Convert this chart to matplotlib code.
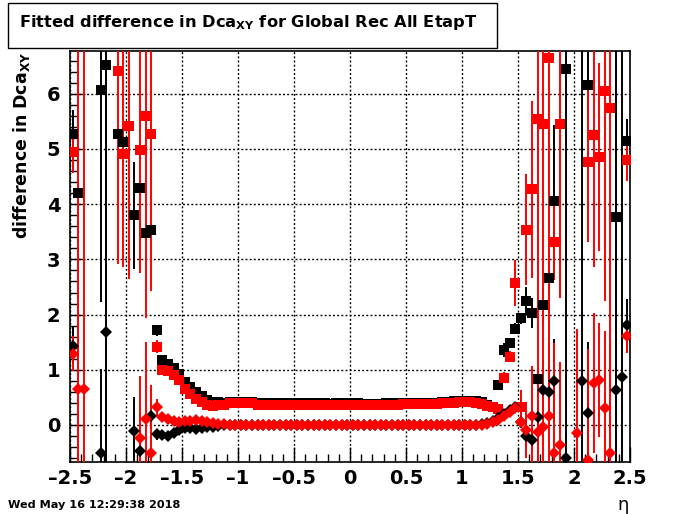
import numpy as np
import matplotlib
matplotlib.use("Agg")
import matplotlib.pyplot as plt
from matplotlib.patches import Rectangle
from matplotlib.ticker import MultipleLocator, FuncFormatter

nan = np.nan

# eta bins: 100 bins from -2.5 to 2.5
eta_lo, eta_hi, n_bins = -2.5, 2.5, 100

# black squares
blk_sq = [5.28, 4.20, nan, nan, nan, 6.06, 6.52, nan, 5.28, 5.12,
          nan, 3.80, 4.29, 3.47, 3.54, 1.72, 1.18, 1.10, 1.03, 0.92,
          0.77, 0.68, 0.60, 0.53, 0.46, 0.42, 0.41, 0.40, 0.41, 0.42,
          0.42, 0.41, 0.41, 0.40, 0.40, 0.39, 0.39, 0.39, 0.39, 0.39,
          0.39, 0.39, 0.39, 0.39, 0.39, 0.39, 0.38, 0.39, 0.39, 0.39,
          0.39, 0.39, 0.38, 0.38, 0.38, 0.38, 0.39, 0.39, 0.39, 0.40,
          0.40, 0.40, 0.40, 0.40, 0.40, 0.40, 0.41, 0.41, 0.43, 0.44,
          0.44, 0.44, 0.43, 0.41, 0.37, 0.33, 0.72, 1.36, 1.49, 1.74,
          1.93, 2.25, 2.03, 0.83, 2.17, 2.67, 4.06, nan, 6.44, nan,
          nan, nan, 6.15, nan, nan, nan, nan, 3.76, nan, 5.14]
blk_sq_err = [0.43, 0.05, 0, 0, 0, 3.83, 9.0, 0, 0.10, 0.10,
              0, 0.97, 0.10, 0.10, 0.10, 0.10, 0.04, 0.03, 0.03, 0.03,
              0.02, 0.02, 0.02, 0.02, 0.02, 0.02, 0.02, 0.02, 0.02, 0.02,
              0.02, 0.02, 0.02, 0.02, 0.02, 0.02, 0.02, 0.02, 0.02, 0.02,
              0.02, 0.02, 0.02, 0.02, 0.02, 0.02, 0.02, 0.02, 0.02, 0.02,
              0.02, 0.02, 0.02, 0.02, 0.02, 0.02, 0.02, 0.02, 0.02, 0.02,
              0.02, 0.02, 0.02, 0.02, 0.02, 0.02, 0.02, 0.02, 0.02, 0.02,
              0.02, 0.02, 0.02, 0.02, 0.03, 0.03, 0.06, 0.12, 0.08, 0.10,
              0.10, 0.25, 0.27, 0.20, 0.30, 0.30, 1.37, 0, 9.0, 0,
              0, 0, 0.60, 0, 0, 0, 0, 9.0, 0, 0.41]

# red squares
red_sq = [4.94, nan, nan, nan, nan, nan, nan, nan, 6.41, 4.90,
          5.41, nan, 4.98, 5.59, 5.28, 1.42, 1.00, 0.97, 0.91, 0.81,
          0.66, 0.56, 0.47, 0.42, 0.37, 0.35, 0.36, 0.37, 0.39, 0.40,
          0.40, 0.39, 0.39, 0.37, 0.37, 0.37, 0.37, 0.37, 0.37, 0.37,
          0.37, 0.37, 0.37, 0.37, 0.37, 0.37, 0.37, 0.37, 0.37, 0.37,
          0.37, 0.37, 0.37, 0.37, 0.37, 0.37, 0.37, 0.37, 0.37, 0.38,
          0.38, 0.38, 0.38, 0.38, 0.38, 0.38, 0.39, 0.39, 0.40, 0.41,
          0.41, 0.41, 0.40, 0.38, 0.35, 0.32, 0.29, 0.86, 1.24, 2.57,
          0.33, 3.54, 4.27, 5.54, 5.45, 6.64, 3.31, 5.45, nan, nan,
          nan, nan, 4.76, 5.25, 4.86, 6.05, 5.75, nan, nan, 4.80]
red_sq_err = [0.38, 0, 0, 0, 0, 0, 0, 0, 3.50, 2.03,
              2.77, 0, 2.23, 3.66, 2.86, 0.12, 0.04, 0.03, 0.03, 0.03,
              0.02, 0.02, 0.02, 0.02, 0.02, 0.02, 0.02, 0.02, 0.02, 0.02,
              0.02, 0.02, 0.02, 0.02, 0.02, 0.02, 0.02, 0.02, 0.02, 0.02,
              0.02, 0.02, 0.02, 0.02, 0.02, 0.02, 0.02, 0.02, 0.02, 0.02,
              0.02, 0.02, 0.02, 0.02, 0.02, 0.02, 0.02, 0.02, 0.02, 0.02,
              0.02, 0.02, 0.02, 0.02, 0.02, 0.02, 0.02, 0.02, 0.02, 0.02,
              0.02, 0.02, 0.02, 0.02, 0.03, 0.03, 0.04, 0.10, 0.10, 0.41,
              0.30, 1.00, 1.60, 5.00, 5.00, 6.00, 0.68, 3.15, 0, 0,
              0, 0, 1.44, 2.38, 1.70, 3.80, 9.0, 0, 0, 0.38]

# black diamonds
blk_di = [1.44, nan, nan, nan, nan, -0.51, 1.68, nan, nan, nan,
          nan, -0.11, -0.48, nan, 0.16, -0.17, -0.18, -0.20, -0.15, -0.09,
          -0.06, -0.06, -0.07, -0.06, -0.04, -0.03, -0.01, 0.00, 0.00, 0.00,
          0.00, 0.00, 0.00, 0.00, 0.00, 0.00, 0.00, 0.00, 0.00, 0.00,
          0.00, 0.00, 0.00, 0.00, 0.00, 0.00, 0.00, 0.00, 0.00, 0.00,
          0.00, 0.00, 0.00, 0.00, 0.00, 0.00, 0.00, 0.00, 0.00, 0.00,
          0.00, 0.00, 0.00, 0.00, 0.00, 0.00, 0.00, 0.00, 0.00, 0.00,
          0.00, 0.00, 0.00, 0.01, 0.03, 0.07, 0.12, 0.20, 0.27, 0.33,
          0.05, -0.20, -0.27, 0.15, 0.63, 0.60, 0.80, nan, -0.59, nan,
          nan, 0.80, 0.22, nan, nan, nan, nan, 0.63, 0.87, 1.81]
blk_di_err = [0.33, 0, 0, 0, 0, 1.52, 9.0, 0, 0, 0,
              0, 0.62, 0.10, 0, 0.10, 0.10, 0.04, 0.03, 0.03, 0.03,
              0.02, 0.02, 0.02, 0.02, 0.02, 0.02, 0.02, 0.02, 0.02, 0.02,
              0.02, 0.02, 0.02, 0.02, 0.02, 0.02, 0.02, 0.02, 0.02, 0.02,
              0.02, 0.02, 0.02, 0.02, 0.02, 0.02, 0.02, 0.02, 0.02, 0.02,
              0.02, 0.02, 0.02, 0.02, 0.02, 0.02, 0.02, 0.02, 0.02, 0.02,
              0.02, 0.02, 0.02, 0.02, 0.02, 0.02, 0.02, 0.02, 0.02, 0.02,
              0.02, 0.02, 0.02, 0.02, 0.02, 0.03, 0.03, 0.04, 0.05, 0.05,
              0.10, 0.20, 0.20, 0.30, 0.50, 0.40, 0.75, 0, 0.50, 0,
              0, 9.0, 1.29, 0, 0, 0, 0, 9.0, 9.0, 0.48]

# red diamonds
red_di = [1.29, 0.66, 0.66, nan, nan, nan, nan, nan, nan, nan,
          nan, nan, -0.24, 0.10, -0.51, 0.32, 0.14, 0.10, 0.08, 0.06,
          0.08, 0.08, 0.09, 0.08, 0.06, 0.03, 0.02, 0.01, 0.00, 0.00,
          0.00, 0.00, 0.00, 0.00, 0.00, 0.00, 0.00, 0.00, 0.00, 0.00,
          0.00, 0.00, 0.00, 0.00, 0.00, 0.00, 0.00, 0.00, 0.00, 0.00,
          0.00, 0.00, 0.00, 0.00, 0.00, 0.00, 0.00, 0.00, 0.00, 0.00,
          0.00, 0.00, 0.00, 0.00, 0.00, 0.00, 0.00, 0.00, 0.00, 0.00,
          0.00, 0.00, 0.00, 0.00, 0.02, 0.05, 0.09, 0.17, 0.24, 0.30,
          0.05, -0.09, 0.16, -0.13, -0.03, 0.16, -0.51, -0.36, nan, nan,
          -0.14, nan, -0.63, 0.76, 0.82, 0.31, -0.51, nan, nan, 1.61]
red_di_err = [0.32, 9.0, 9.0, 0, 0, 0, 0, 0, 0, 0,
              0, 0, 1.13, 1.41, 1.23, 0.15, 0.04, 0.03, 0.03, 0.03,
              0.02, 0.02, 0.02, 0.02, 0.02, 0.02, 0.02, 0.02, 0.02, 0.02,
              0.02, 0.02, 0.02, 0.02, 0.02, 0.02, 0.02, 0.02, 0.02, 0.02,
              0.02, 0.02, 0.02, 0.02, 0.02, 0.02, 0.02, 0.02, 0.02, 0.02,
              0.02, 0.02, 0.02, 0.02, 0.02, 0.02, 0.02, 0.02, 0.02, 0.02,
              0.02, 0.02, 0.02, 0.02, 0.02, 0.02, 0.02, 0.02, 0.02, 0.02,
              0.02, 0.02, 0.02, 0.02, 0.02, 0.03, 0.03, 0.04, 0.05, 0.05,
              0.10, 0.50, 0.90, 1.00, 1.20, 1.30, 2.00, 1.50, 0, 0,
              1.87, 0, 2.00, 1.27, 1.03, 1.40, 2.00, 0, 0, 0.30]

title = r"Fitted difference in Dca$_{\rm XY}$ for Global Rec All EtapT"
ylabel = r"difference in Dca$_{\rm XY}$"
xlabel = "\u03b7"
datestamp = "Wed May 16 12:29:38 2018"

plt.rcParams['font.family'] = ['DejaVu Sans']
plt.rcParams['font.weight'] = 'bold'
plt.rcParams['mathtext.fontset'] = 'custom'
plt.rcParams['mathtext.rm'] = 'DejaVu Sans:bold'
plt.rcParams['mathtext.it'] = 'DejaVu Sans:bold'
plt.rcParams['mathtext.bf'] = 'DejaVu Sans:bold'

edges = np.linspace(eta_lo, eta_hi, n_bins + 1)
centers = 0.5 * (edges[:-1] + edges[1:])

fig = plt.figure(figsize=(7.0, 5.14), dpi=100)
ax = fig.add_axes([0.1, 0.1012, 0.8, 0.7996])

series = [
    (blk_sq, blk_sq_err, 'black', 's', 7.0),
    (red_sq, red_sq_err, 'red', 's', 7.0),
    (blk_di, blk_di_err, 'black', 'D', 6.6),
    (red_di, red_di_err, 'red', 'D', 6.4),
]
for vals, errs, col, mk, ms in series:
    ax.errorbar(centers, np.array(vals, dtype=float), yerr=np.array(errs, dtype=float),
                fmt=mk, color=col, ms=ms, mew=0, elinewidth=1.4, capsize=0, zorder=3)

ax.set_xlim(eta_lo, eta_hi)
ax.set_ylim(-0.67, 6.775)
ax.xaxis.set_major_locator(MultipleLocator(0.5))
ax.xaxis.set_minor_locator(MultipleLocator(0.1))
ax.yaxis.set_major_locator(MultipleLocator(1))
ax.yaxis.set_minor_locator(MultipleLocator(0.2))
tick_fmt = FuncFormatter(lambda v, p: ('%g' % round(v, 3)).replace('-', '\u2013'))
ax.xaxis.set_major_formatter(tick_fmt)
ax.yaxis.set_major_formatter(tick_fmt)
ax.tick_params(which='both', direction='in', top=False, right=False,
               labelsize=14, width=1)
ax.tick_params(axis='x', pad=5)
ax.tick_params(axis='y', pad=7)
ax.tick_params(which='major', length=11)
ax.tick_params(which='minor', length=6)
for lab in ax.get_xticklabels() + ax.get_yticklabels():
    lab.set_fontweight('bold')
ax.grid(True, which='major', color='black', linestyle=(0, (1.4, 1.6)), linewidth=1)
for sp in ax.spines.values():
    sp.set_linewidth(1.2)

# title box
fig.patches.append(Rectangle((8 / 700, 1 - 48 / 514), 489 / 700, 45 / 514,
                             transform=fig.transFigure, fill=False,
                             edgecolor='black', linewidth=1))
fig.text(0.354, 0.957, title, ha='center', va='center', fontsize=11.7, fontweight='bold')

fig.text(0.031, 0.9, ylabel, rotation=90, ha='center', va='top', fontsize=12.5, fontweight='bold')
fig.text(0.89, 0.017, xlabel, ha='center', va='center', fontsize=13, fontweight='normal')
fig.text(0.011, 0.017, datestamp, ha='left', va='center', fontsize=8.1, fontweight='bold')

plt.savefig("out.png", dpi=100)
